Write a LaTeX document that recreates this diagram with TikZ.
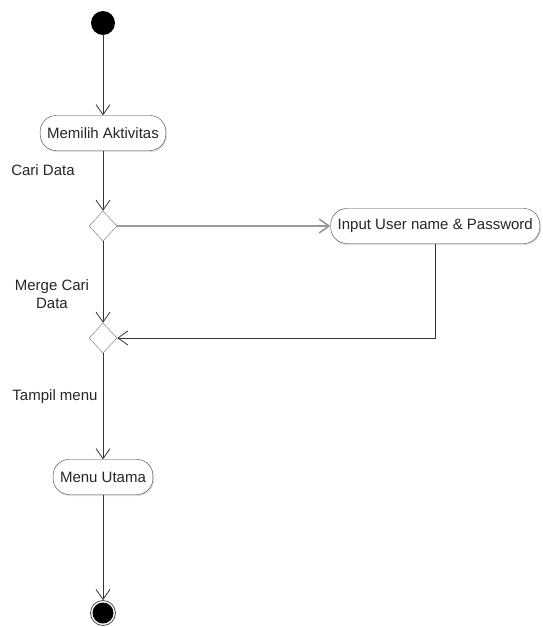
\documentclass[tikz,border=0pt]{standalone}
\usepackage{fontspec}
\setmainfont{Liberation Sans}
\usetikzlibrary{shapes.geometric, arrows.meta, positioning, shadows}
\tikzstyle{activity} = [rectangle, rounded corners=16pt, minimum height=35pt, inner xsep=7pt, draw=black!75, fill=white, text=black!85, font=\fontsize{15}{18}\selectfont, drop shadow={shadow xshift=1pt, shadow yshift=-1.5pt, opacity=0.25}]
\tikzstyle{decision} = [diamond, minimum width=28pt, minimum height=30pt, inner sep=0pt, draw=black!55, fill=white]
\tikzstyle{guard} = [text=black!85, align=center, font=\fontsize{15}{18}\selectfont]
\tikzstyle{arrow} = [-{Straight Barb[length=10pt, width=14pt]}, draw=black!80, line width=0.8pt]

\begin{document}
\begin{tikzpicture}[x=1pt, y=-1pt]
    \useasboundingbox (0,0) rectangle (542,627);

    \node (start) [circle, fill=black, minimum size=24pt, inner sep=0pt] at (103, 23) {};
    \node (act0) [activity] at (103, 133) {Memilih Aktivitas};
    \node (dec0) [decision] at (103, 226) {};
    \node (act1) [activity, anchor=east] at (540, 226) {Input User name \& Password};
    \node (dec1) [decision] at (103, 338) {};
    \node (act2) [activity] at (103, 477) {Menu Utama};
    \node (end0) [circle, draw=black!70, line width=0.8pt, minimum size=25pt, inner sep=0pt] at (103, 613) {};
    \node (end0dot) [circle, fill=black, minimum size=21pt, inner sep=0pt] at (end0) {};

    \node (guard0) [guard] at (43, 170) {Cari Data};
    \node (guard1) [guard] at (52, 294) {Merge Cari\\Data};
    \node (guard2) [guard] at (55, 397) {Tampil menu};

    \draw [arrow] (start) -- (act0);
    \draw [arrow] (act0) -- (dec0);
    \draw [arrow, draw=black!40, line width=1.6pt] (dec0) -- (act1);
    \draw [arrow] (dec0) -- (dec1);
    \draw [arrow] (act1.south) |- (dec1.east);
    \draw [arrow] (dec1) -- (act2);
    \draw [arrow] (act2) -- (end0);

\end{tikzpicture}
\end{document}
